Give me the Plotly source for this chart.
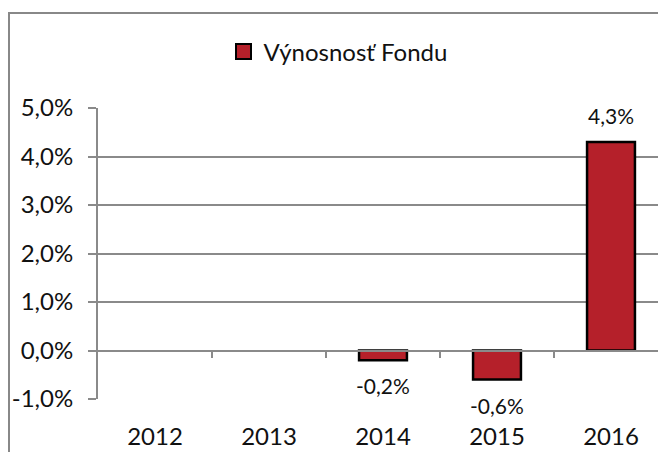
import plotly.graph_objects as go

years = ["2012", "2013", "2014", "2015", "2016"]
returns = [None, None, -0.2, -0.6, 4.3]
labels = ["", "", "-0,2%", "-0,6%", "4,3%"]
y_ticks = [-1, 0, 1, 2, 3, 4, 5]
y_tick_text = ["-1,0%", "0,0%", "1,0%", "2,0%", "3,0%", "4,0%", "5,0%"]
series_name = "Výnosnosť Fondu"

FONT = "Lato"
BAR_COLOR = "#B5202A"
W, H = 666, 452
ML, MR, MT, MB = 90, 6, 100, 61
PW, PH = W - ML - MR, H - MT - MB
xr = [-0.5, 4.5]

fig = go.Figure()
fig.add_trace(go.Bar(
    x=list(range(len(years))), y=returns, name=series_name,
    marker=dict(color=BAR_COLOR, line=dict(color="#000000", width=2.5)),
    width=0.42, legendgroup="f",
    showlegend=False, hoverinfo="skip",
))
# legend entry with a larger square swatch
fig.add_trace(go.Scatter(
    x=[None], y=[None], mode="markers", name=series_name, legendgroup="f",
    marker=dict(symbol="square", size=15, color=BAR_COLOR,
                line=dict(color="#000000", width=2)),
    showlegend=True, hoverinfo="skip",
))
# helper invisible trace for the zero-line axis with ticks
fig.add_trace(go.Scatter(x=[None], y=[None], xaxis="x2", yaxis="y",
                         showlegend=False, hoverinfo="skip"))

annotations = []
for i, (v, t) in enumerate(zip(returns, labels)):
    if v is None or not t:
        continue
    annotations.append(dict(
        x=i, y=v, xref="x", yref="y", text=t, showarrow=False,
        yanchor="bottom" if v >= 0 else "top",
        yshift=12 if v >= 0 else -11,
        font=dict(family=FONT, size=21, color="#111"),
    ))

fig.update_layout(
    width=W, height=H,
    margin=dict(l=ML, r=MR, t=MT, b=MB, autoexpand=False),
    paper_bgcolor="white", plot_bgcolor="white",
    font=dict(family=FONT, size=20, color="#111"),
    legend=dict(orientation="h", xref="container", x=330 / W, xanchor="center",
                yref="container", y=1 - 44 / H, yanchor="middle",
                itemsizing="trace",
                font=dict(family=FONT, size=24, color="#111")),
    xaxis=dict(range=xr, tickvals=list(range(len(years))), ticktext=years,
               showgrid=False, zeroline=False, showline=False, ticks="",
               automargin=False,
               ticklabelstandoff=21, tickfont=dict(family=FONT, size=24, color="#111")),
    xaxis2=dict(range=xr, overlaying="x", anchor="free", position=1 / 6,
                showline=True, linecolor="#8a8a8a", linewidth=2,
                ticks="outside", tickvals=[0.5, 1.5, 2.5, 3.5], ticklen=6,
                tickwidth=2, tickcolor="#8a8a8a", showticklabels=False,
                showgrid=False, zeroline=False, automargin=False),
    yaxis=dict(range=[-1, 5], tickvals=y_ticks, ticktext=y_tick_text,
               showgrid=True, gridcolor="#8a8a8a", gridwidth=2,
               zeroline=False, showline=True, linecolor="#8a8a8a", linewidth=2,
               ticks="outside", ticklen=8, tickwidth=2, tickcolor="#8a8a8a",
               automargin=False,
               ticklabelstandoff=10, tickfont=dict(family=FONT, size=24, color="#111")),
    annotations=annotations,
    shapes=[dict(type="rect", xref="paper", yref="paper",
                 x0=-(ML - 1) / PW, x1=1.05, y0=-0.5, y1=1 + (MT - 5) / PH,
                 line=dict(color="#888888", width=2), fillcolor="rgba(0,0,0,0)",
                 layer="below")],
)

fig.write_html("out.html")
